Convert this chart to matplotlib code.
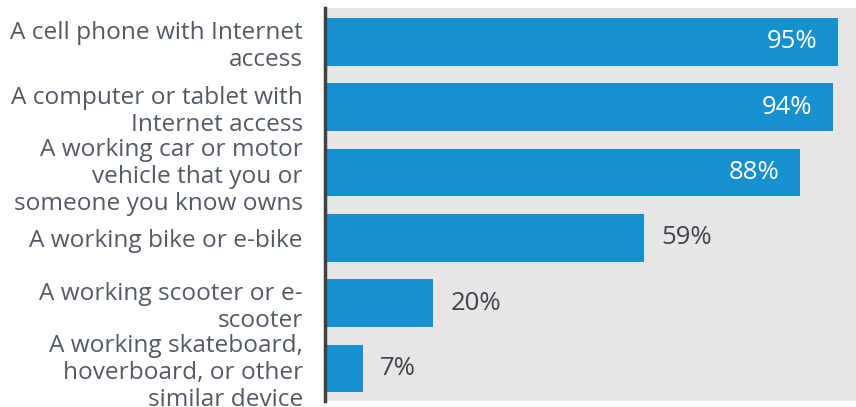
import matplotlib.pyplot as plt

labels = [
    "A cell phone with Internet\naccess",
    "A computer or tablet with\nInternet access",
    "A working car or motor\nvehicle that you or\nsomeone you know owns",
    "A working bike or e-bike",
    "A working scooter or e-\nscooter",
    "A working skateboard,\nhoverboard, or other\nsimilar device",
]
values = [95, 94, 88, 59, 20, 7]

plt.rcParams['font.family'] = ['Open Sans', 'DejaVu Sans']

fig = plt.figure(figsize=(8.56, 4.07), dpi=100)
ax = fig.add_axes([0.3797, 0.0147, 0.6203, 0.9656])
ax.set_facecolor('#e6e6e6')

ypos = list(range(len(values)))
ax.barh(ypos, values, height=0.73, color='#1790cf', zorder=2)

# большие значения пишем внутри столбца, маленькие — снаружи
for y, v in zip(ypos, values):
    if v >= 80:
        ax.text(v - 3.8, y, f"{v}%", ha='right', va='center', color='white',
                fontsize=18.5)
    else:
        ax.text(v + 3.2, y, f"{v}%", ha='left', va='center', color='#3f4550',
                fontsize=18.5)

ax.set_xlim(0, 98.3)
ax.set_ylim(5.5, -0.52)
ax.set_yticks(ypos)
ax.set_yticklabels(labels, fontsize=17.6, color='#525a68', linespacing=1.18)
ax.tick_params(axis='y', length=0, pad=16)
ax.set_xticks([])

for s in ['top', 'right', 'bottom']:
    ax.spines[s].set_visible(False)
ax.spines['left'].set_color('#404040')
ax.spines['left'].set_linewidth(2.5)

fig.savefig('out.png', dpi=100)
